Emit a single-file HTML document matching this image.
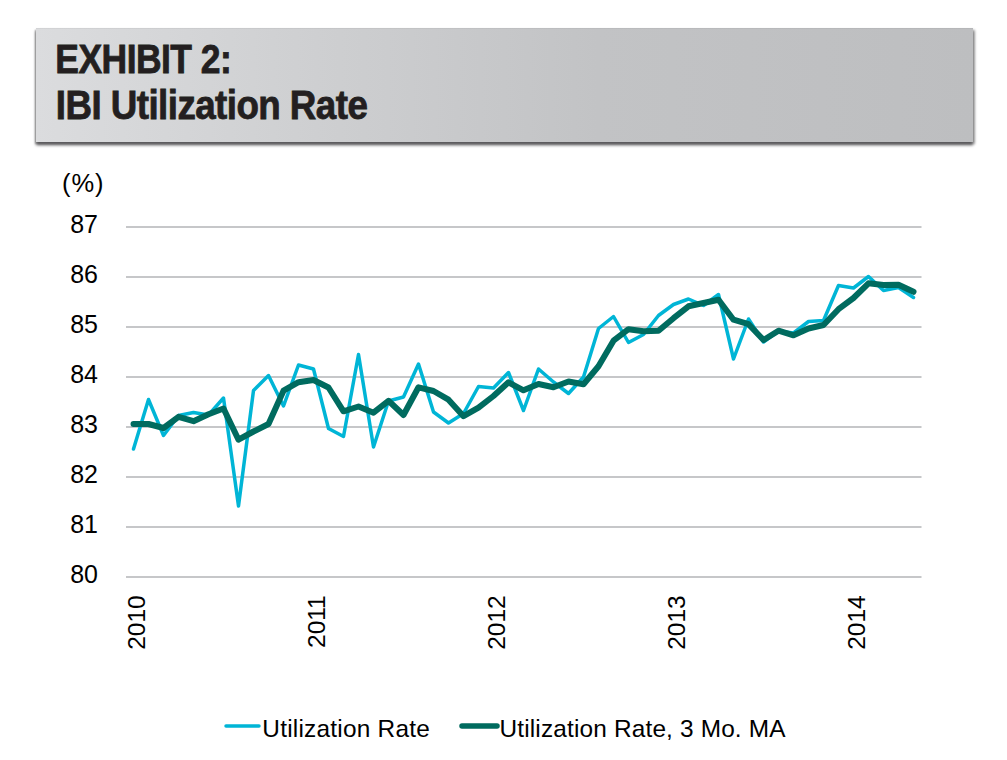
<!DOCTYPE html>
<html><head><meta charset="utf-8">
<style>
html,body{margin:0;padding:0;background:#fff;width:1007px;height:760px;overflow:hidden;}
svg{position:absolute;left:0;top:0;}
.hdr{position:absolute;left:36px;top:28px;width:937px;height:114px;
background:linear-gradient(to right,#dbdcde 0%,#cecfd1 30%,#c2c3c5 60%,#bdbec0 100%);
box-shadow:0 3px 3px #5a595c, 2px 2px 2.5px #b0b0b0, -1px 2px 1.5px #b8b8b8, inset 0 1px 0 rgba(0,0,0,0.04);}
</style></head><body>
<div class="hdr"></div>
<svg width="1007" height="760" viewBox="0 0 1007 760">
<g font-family="Liberation Sans, sans-serif" font-weight="bold" fill="#231f20" stroke="#231f20" stroke-width="0.8" font-size="40" letter-spacing="-0.6">
<text x="55.3" y="72.6" textLength="176" lengthAdjust="spacingAndGlyphs">EXHIBIT 2:</text>
<text x="55.8" y="118.8" textLength="311.5" lengthAdjust="spacingAndGlyphs">IBI Utilization Rate</text>
</g>
<g font-family="Liberation Sans, sans-serif" fill="#000" font-size="25">
<text x="62" y="191.5" font-size="25.5" letter-spacing="0.9">(%)</text>
<text x="98" y="582.70" text-anchor="end">80</text>
<text x="98" y="532.70" text-anchor="end">81</text>
<text x="98" y="482.70" text-anchor="end">82</text>
<text x="98" y="432.70" text-anchor="end">83</text>
<text x="98" y="382.70" text-anchor="end">84</text>
<text x="98" y="332.70" text-anchor="end">85</text>
<text x="98" y="282.70" text-anchor="end">86</text>
<text x="98" y="232.70" text-anchor="end">87</text>
<text transform="translate(145.4,595.3) rotate(-90)" text-anchor="end" font-size="24.5">2010</text>
<text transform="translate(325.4,595.3) rotate(-90)" text-anchor="end" font-size="24.5">2011</text>
<text transform="translate(505.4,595.3) rotate(-90)" text-anchor="end" font-size="24.5">2012</text>
<text transform="translate(685.4,595.3) rotate(-90)" text-anchor="end" font-size="24.5">2013</text>
<text transform="translate(865.4,595.3) rotate(-90)" text-anchor="end" font-size="24.5">2014</text>
</g>
<g stroke="#c6c7c9" stroke-width="2">
<line x1="126" x2="921.5" y1="577" y2="577" />
<line x1="126" x2="921.5" y1="527" y2="527" />
<line x1="126" x2="921.5" y1="477" y2="477" />
<line x1="126" x2="921.5" y1="427" y2="427" />
<line x1="126" x2="921.5" y1="377" y2="377" />
<line x1="126" x2="921.5" y1="327" y2="327" />
<line x1="126" x2="921.5" y1="277" y2="277" />
<line x1="126" x2="921.5" y1="227" y2="227" />
</g>
<polyline fill="none" stroke="#00b5d6" stroke-width="3.5" stroke-linejoin="round" stroke-linecap="round" points="133.5,449.0 148.5,399.5 163.5,435.5 178.5,415.5 193.5,412.5 208.5,415.0 223.5,398.0 238.5,506.0 253.5,390.5 268.5,375.5 283.5,406.0 298.5,365.0 313.5,369.0 328.5,428.5 343.5,436.5 358.5,354.5 373.5,447.0 388.5,401.0 403.5,397.0 418.5,364.0 433.5,412.0 448.5,423.0 463.5,413.5 478.5,386.5 493.5,388.0 508.5,372.5 523.5,410.5 538.5,369.0 553.5,382.0 568.5,393.5 583.5,377.0 598.5,328.5 613.5,316.5 628.5,342.5 643.5,334.5 658.5,315.5 673.5,304.5 688.5,299.0 703.5,305.5 718.5,294.5 733.5,359.0 748.5,319.0 763.5,342.0 778.5,331.0 793.5,333.0 808.5,321.5 823.5,320.5 838.5,285.5 853.5,288.0 868.5,276.5 883.5,290.5 898.5,287.5 913.5,297.5"/>
<polyline fill="none" stroke="#006b5f" stroke-width="6" stroke-linejoin="round" stroke-linecap="round" points="133.5,424.0 148.5,424.0 163.5,428.0 178.5,416.8 193.5,421.2 208.5,414.3 223.5,408.5 238.5,439.7 253.5,431.5 268.5,424.0 283.5,390.7 298.5,382.2 313.5,380.0 328.5,387.5 343.5,411.3 358.5,406.5 373.5,412.7 388.5,400.8 403.5,415.0 418.5,387.3 433.5,391.0 448.5,399.7 463.5,416.2 478.5,407.7 493.5,396.0 508.5,382.3 523.5,390.3 538.5,384.0 553.5,387.2 568.5,381.5 583.5,384.2 598.5,366.3 613.5,340.7 628.5,329.2 643.5,331.2 658.5,330.8 673.5,318.2 688.5,306.3 703.5,303.0 718.5,299.7 733.5,319.7 748.5,324.2 763.5,340.0 778.5,330.7 793.5,335.3 808.5,328.5 823.5,325.0 838.5,309.2 853.5,298.0 868.5,283.3 883.5,285.0 898.5,284.8 913.5,291.8"/>
<g font-family="Liberation Sans, sans-serif" fill="#000" font-size="25">
<line x1="226" x2="259" y1="726" y2="726" stroke="#00b5d6" stroke-width="3.5" stroke-linecap="round"/>
<text x="262.3" y="736.5" font-size="24.4" textLength="167.5" lengthAdjust="spacing">Utilization Rate</text>
<line x1="462" x2="497" y1="726" y2="726" stroke="#006b5f" stroke-width="5.5" stroke-linecap="round"/>
<text x="499.5" y="736.5" font-size="24.4" textLength="286" lengthAdjust="spacing">Utilization Rate, 3 Mo. MA</text>
</g>
</svg>
</body></html>
